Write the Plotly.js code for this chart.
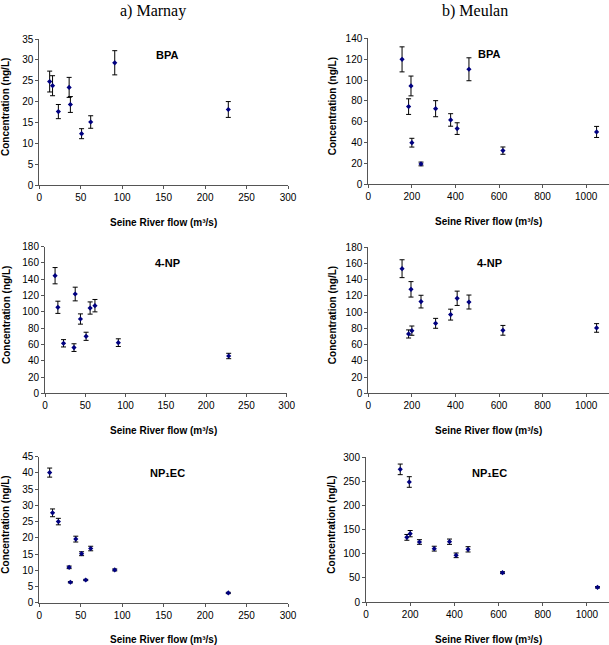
<!DOCTYPE html>
<html>
<head>
<meta charset="utf-8">
<script src="https://cdn.plot.ly/plotly-3.0.1.min.js"></script>
<style>html,body{margin:0;padding:0;background:#fff;}#chart{width:609px;height:645px;}</style>
</head>
<body>
<div id="chart"></div>
<script>
// ---- Data ----
// Marnay (Seine River flow, m3/s)
const marnayFlow = [12.5, 16, 23, 36, 37.5, 44, 51, 56, 62, 91, 228];
const marnayFlowBPA = [12.5, 16, 23, 36, 37.5, 51, 62, 91, 228];
const marnayBPA = [24.8, 23.8, 17.6, 23.4, 19.3, 12.3, 15.1, 29.3, 18.1];
const marnayBPAErr = [2.5, 2.4, 1.7, 2.4, 1.9, 1.2, 1.5, 2.9, 1.9];
const marnayNP = [144.4, 105.6, 61.4, 56.1, 121.9, 91.2, 70.0, 104.7, 107.6, 62.2, 45.8];
const marnayNPErr = [10, 7.5, 4.5, 4.7, 8.4, 6.3, 5, 7.5, 7.6, 4.7, 3.3];
const marnayNP1EC = [40.1, 27.7, 25.0, 10.9, 6.3, 19.6, 15.1, 7.0, 16.7, 10.1, 3.0];
const marnayNP1ECErr = [1.4, 1.2, 1.0, 0.4, 0.2, 0.9, 0.6, 0.2, 0.7, 0.3, 0.2];
// Meulan
const meulanFlow = [155, 185, 196, 200, 242, 309, 378, 408, 462, 618, 1048];
const meulanBPA = [119.8, 74.5, 94.3, 39.9, 19.5, 72.5, 61.7, 53.4, 110.3, 32.3, 50.2];
const meulanBPAErr = [12, 7.5, 9.5, 4.2, 1.8, 7.7, 6, 5.6, 11, 3.5, 5.3];
const meulanNP = [153.3, 73.0, 127.9, 77.1, 112.8, 86.1, 96.8, 116.9, 112.3, 77.5, 80.4];
const meulanNPErr = [11, 5, 9.5, 5.7, 7.8, 6.1, 6.7, 8.8, 8.6, 6, 5.3];
const meulanNP1EC = [275, 134, 248.8, 141.7, 124.4, 110.6, 125, 96.8, 109.2, 60.8, 30.4];
const meulanNP1ECErr = [11, 6, 11, 6.5, 4.8, 5, 5.5, 4.8, 5.5, 2, 1.5];

const columnTitles = ["a) Marnay", "b) Meulan"];
const compoundLabels = ["BPA", "4-NP", "NP\u2081EC"];
const xTitle = "Seine River flow (m\u00B3/s)";
const yTitle = "Concentration (ng/L)";

// ---- Layout helpers ----
const W = 609, H = 645;
const px = x => x / W;
const py = y => 1 - y / H;

// panel boxes in pixels: [left, right, top, bottom]
const boxes = [
  [39.3, 288, 39, 185],
  [368.3, 609, 38.3, 184.3],
  [45, 286.7, 246.7, 393.3],
  [368.3, 609, 247, 393.3],
  [39.3, 288, 456.7, 602.7],
  [366, 609, 457.3, 602]
];
const xRanges = [[0,300],[0,1105],[0,300],[0,1105],[0,300],[0,1100]];
const xDticks = [50,200,50,200,50,200];
const yRanges = [[0,35],[0,140],[0,180],[0,180],[0,45],[0,300]];
const yDticks = [5,20,20,20,5,50];

const series = [
  [marnayFlowBPA, marnayBPA, marnayBPAErr],
  [meulanFlow, meulanBPA, meulanBPAErr],
  [marnayFlow, marnayNP, marnayNPErr],
  [meulanFlow, meulanNP, meulanNPErr],
  [marnayFlow, marnayNP1EC, marnayNP1ECErr],
  [meulanFlow, meulanNP1EC, meulanNP1ECErr]
];

const tickFont = {family: "Arial, Liberation Sans, sans-serif", size: 10, color: "#000"};
const boldFont = {family: "Arial, Liberation Sans, DejaVu Sans, sans-serif", size: 10, color: "#000", weight: "bold"};

const data = [];
const layout = {
  width: W, height: H,
  margin: {l:0, r:0, t:0, b:0},
  paper_bgcolor: "#fff",
  plot_bgcolor: "rgba(0,0,0,0)",
  showlegend: false,
  annotations: []
};

series.forEach((s, i) => {
  const n = i === 0 ? "" : String(i + 1);
  data.push({
    type: "scatter", mode: "markers",
    x: s[0], y: s[1],
    xaxis: "x" + n, yaxis: "y" + n,
    marker: {symbol: "diamond", size: 4, color: "#000080"},
    error_y: {type: "data", array: s[2], visible: true, color: "#000", thickness: 1, width: 2.5},
    cliponaxis: false
  });
  const b = boxes[i];
  layout["xaxis" + n] = {
    domain: [px(b[0]), px(b[1])],
    anchor: "y" + n,
    range: xRanges[i], dtick: xDticks[i], tick0: 0,
    showgrid: false, zeroline: false,
    showline: true, linecolor: "#555", linewidth: 1,
    ticks: "outside", ticklen: 3, tickcolor: "#555",
    tickfont: tickFont
  };
  layout["yaxis" + n] = {
    domain: [py(b[3]), py(b[2])],
    anchor: "x" + n,
    range: yRanges[i], dtick: yDticks[i], tick0: 0,
    showgrid: false, zeroline: false,
    showline: true, linecolor: "#555", linewidth: 1,
    ticks: "outside", ticklen: 3, tickcolor: "#555",
    tickfont: tickFont
  };
  const cy = (b[2] + b[3]) / 2;
  // x-axis title
  layout.annotations.push({
    xref: "paper", yref: "paper", x: px(i % 2 === 0 ? 163 : 488), y: py(b[3] + 37),
    text: xTitle, showarrow: false, font: boldFont, xanchor: "center", yanchor: "middle"
  });
  // y-axis title
  layout.annotations.push({
    xref: "paper", yref: "paper", x: px(i % 2 === 0 ? 6 : 332), y: py(cy - 5),
    text: yTitle, showarrow: false, font: boldFont, textangle: -90, xanchor: "center", yanchor: "middle"
  });
  // compound label
  layout.annotations.push({
    xref: "paper", yref: "paper", x: px(i % 2 === 0 ? 167 : 489), y: py(b[2] + 16),
    text: compoundLabels[Math.floor(i / 2)], showarrow: false,
    font: {family: "Arial, Liberation Sans, DejaVu Sans, sans-serif", size: 11, color: "#000", weight: "bold"},
    xanchor: "center", yanchor: "middle"
  });
});

// column titles
layout.annotations.push({
  xref: "paper", yref: "paper", x: px(153), y: py(11), text: columnTitles[0], showarrow: false,
  font: {family: "Liberation Serif, Times New Roman, serif", size: 16, color: "#000"}, xanchor: "center", yanchor: "middle"
});
layout.annotations.push({
  xref: "paper", yref: "paper", x: px(475), y: py(11), text: columnTitles[1], showarrow: false,
  font: {family: "Liberation Serif, Times New Roman, serif", size: 16, color: "#000"}, xanchor: "center", yanchor: "middle"
});

Plotly.newPlot("chart", data, layout, {staticPlot: true, displayModeBar: false});
</script>
</body>
</html>
